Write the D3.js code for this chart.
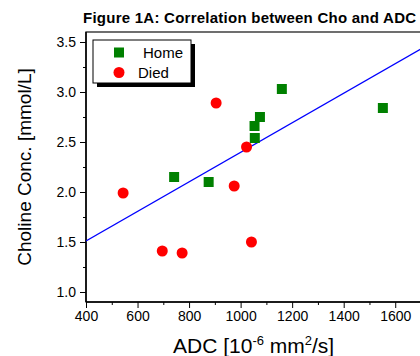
<!DOCTYPE html>
<html>
<head>
<meta charset="utf-8">
<script src="https://cdn.jsdelivr.net/npm/d3@7"></script>
<style>
  body { margin: 0; background: #fff; }
  svg { display: block; font-family: Arial, "Liberation Sans", sans-serif; }
</style>
</head>
<body>
<div id="chart"></div>
<script>
// data
const homeAdc = [742, 876, 1054, 1055, 1075, 1160, 1552];
const homeCho = [2.15, 2.10, 2.66, 2.54, 2.75, 3.03, 2.84];
const diedAdc = [544, 696, 773, 905, 975, 1023, 1042];
const diedCho = [1.99, 1.41, 1.39, 2.89, 2.06, 2.45, 1.50];

// linear fit  cho = a + b * adc
const fitA = 0.92;
const fitB = 0.001477;

const xTicks = [400, 600, 800, 1000, 1200, 1400, 1600];
const yTicks = [1.0, 1.5, 2.0, 2.5, 3.0, 3.5];

const W = 420, H = 356;
const margin = {top: 32, right: -1, bottom: 54, left: 86};
const chtW = W - margin.left - margin.right;
const chtH = H - margin.top - margin.bottom;

const svg = d3.select('#chart').append('svg')
  .attr('width', W)
  .attr('height', H);

const x = d3.scaleLinear().domain([400, 1700]).range([0, chtW]);
const y = d3.scaleLinear().domain([0.9, 3.6]).range([chtH, 0]);

const g = svg.append('g')
  .attr('transform', 'translate(' + margin.left + ',' + margin.top + ')');

g.append('clipPath').attr('id', 'clip')
  .append('rect').attr('width', chtW).attr('height', chtH);

// frame
g.append('rect')
  .attr('width', chtW)
  .attr('height', chtH)
  .attr('fill', 'none')
  .attr('stroke', '#222')
  .attr('stroke-width', 1.3);

// minor ticks
const xMinor = d3.range(500, 1700, 200);
const yMinor = d3.range(1.25, 3.5, 0.5);

g.append('g')
  .attr('class', 'x minor')
  .attr('transform', 'translate(0,' + chtH + ')')
  .call(d3.axisBottom(x).tickValues(xMinor).tickSize(3).tickFormat(''));

g.append('g')
  .attr('class', 'y minor')
  .call(d3.axisLeft(y).tickValues(yMinor).tickSize(3).tickFormat(''));

// major ticks
g.append('g')
  .attr('class', 'x axis')
  .attr('transform', 'translate(0,' + chtH + ')')
  .call(d3.axisBottom(x).tickValues(xTicks).tickSize(6).tickPadding(3).tickFormat(d3.format('d')));

g.append('g')
  .attr('class', 'y axis')
  .call(d3.axisLeft(y).tickValues(yTicks).tickSize(6).tickPadding(4).tickFormat(d3.format('.1f')));

svg.selectAll('.domain').remove();
svg.selectAll('.tick line').attr('stroke', '#000').attr('stroke-width', 1);
svg.selectAll('.tick text')
  .attr('fill', '#000')
  .style('font-size', '14px')
  .style('font-family', 'Arial, "Liberation Sans", sans-serif');

// axis lines drawn a bit heavier
g.append('line').attr('x1', 0).attr('x2', 0).attr('y1', 0).attr('y2', chtH)
  .attr('stroke', '#000').attr('stroke-width', 1.5);
g.append('line').attr('x1', 0).attr('x2', chtW).attr('y1', chtH).attr('y2', chtH)
  .attr('stroke', '#000').attr('stroke-width', 1.5);

// regression line
const fitLine = [400, 1700].map(d => ({x: d, y: fitA + fitB * d}));
g.append('path')
  .datum(fitLine)
  .attr('clip-path', 'url(#clip)')
  .attr('fill', 'none')
  .attr('stroke', '#0000ff')
  .attr('stroke-width', 1.3)
  .attr('d', d3.line().x(d => x(d.x)).y(d => y(d.y)));

// points
const home = homeAdc.map((d, i) => ({x: d, y: homeCho[i]}));
const died = diedAdc.map((d, i) => ({x: d, y: diedCho[i]}));

g.selectAll('.home')
  .data(home)
  .enter().append('rect')
  .attr('class', 'home')
  .attr('x', d => x(d.x) - 5)
  .attr('y', d => y(d.y) - 5)
  .attr('width', 10)
  .attr('height', 10)
  .attr('fill', '#008000');

g.selectAll('.died')
  .data(died)
  .enter().append('circle')
  .attr('class', 'died')
  .attr('cx', d => x(d.x))
  .attr('cy', d => y(d.y))
  .attr('r', 5.5)
  .attr('fill', '#ff0000');

// legend with drop shadow
const lg = svg.append('g').attr('transform', 'translate(93,40)');
lg.append('rect').attr('x', 4).attr('y', 4).attr('width', 98).attr('height', 43).attr('fill', '#000');
lg.append('rect').attr('width', 98).attr('height', 43).attr('fill', '#fff')
  .attr('stroke', '#000').attr('stroke-width', 1);
lg.append('rect').attr('x', 21).attr('y', 7.5).attr('width', 10).attr('height', 10).attr('fill', '#008000');
lg.append('circle').attr('cx', 26).attr('cy', 32.5).attr('r', 5.5).attr('fill', '#ff0000');
lg.append('text').attr('x', 50).attr('y', 18).style('font-size', '15px').text('Home');
lg.append('text').attr('x', 45).attr('y', 38).style('font-size', '15px').text('Died');

// title
svg.append('text')
  .attr('x', 83)
  .attr('y', 22.5)
  .style('font-size', '15px')
  .style('font-weight', 'bold')
  .style('letter-spacing', '0.25px')
  .text('Figure 1A: Correlation between Cho and ADC');

// axis titles
const xt = svg.append('text')
  .attr('x', 173)
  .attr('y', 353)
  .style('font-size', '21px');
xt.append('tspan').text('ADC [10');
xt.append('tspan').attr('dy', -8).style('font-size', '13px').text('-6');
xt.append('tspan').attr('dy', 8).text(' mm');
xt.append('tspan').attr('dy', -8).style('font-size', '13px').text('2');
xt.append('tspan').attr('dy', 8).text('/s]');

svg.append('text')
  .attr('transform', 'translate(31,167) rotate(-90)')
  .attr('text-anchor', 'middle')
  .style('font-size', '19px')
  .text('Choline Conc. [mmol/L]');
</script>
</body>
</html>
